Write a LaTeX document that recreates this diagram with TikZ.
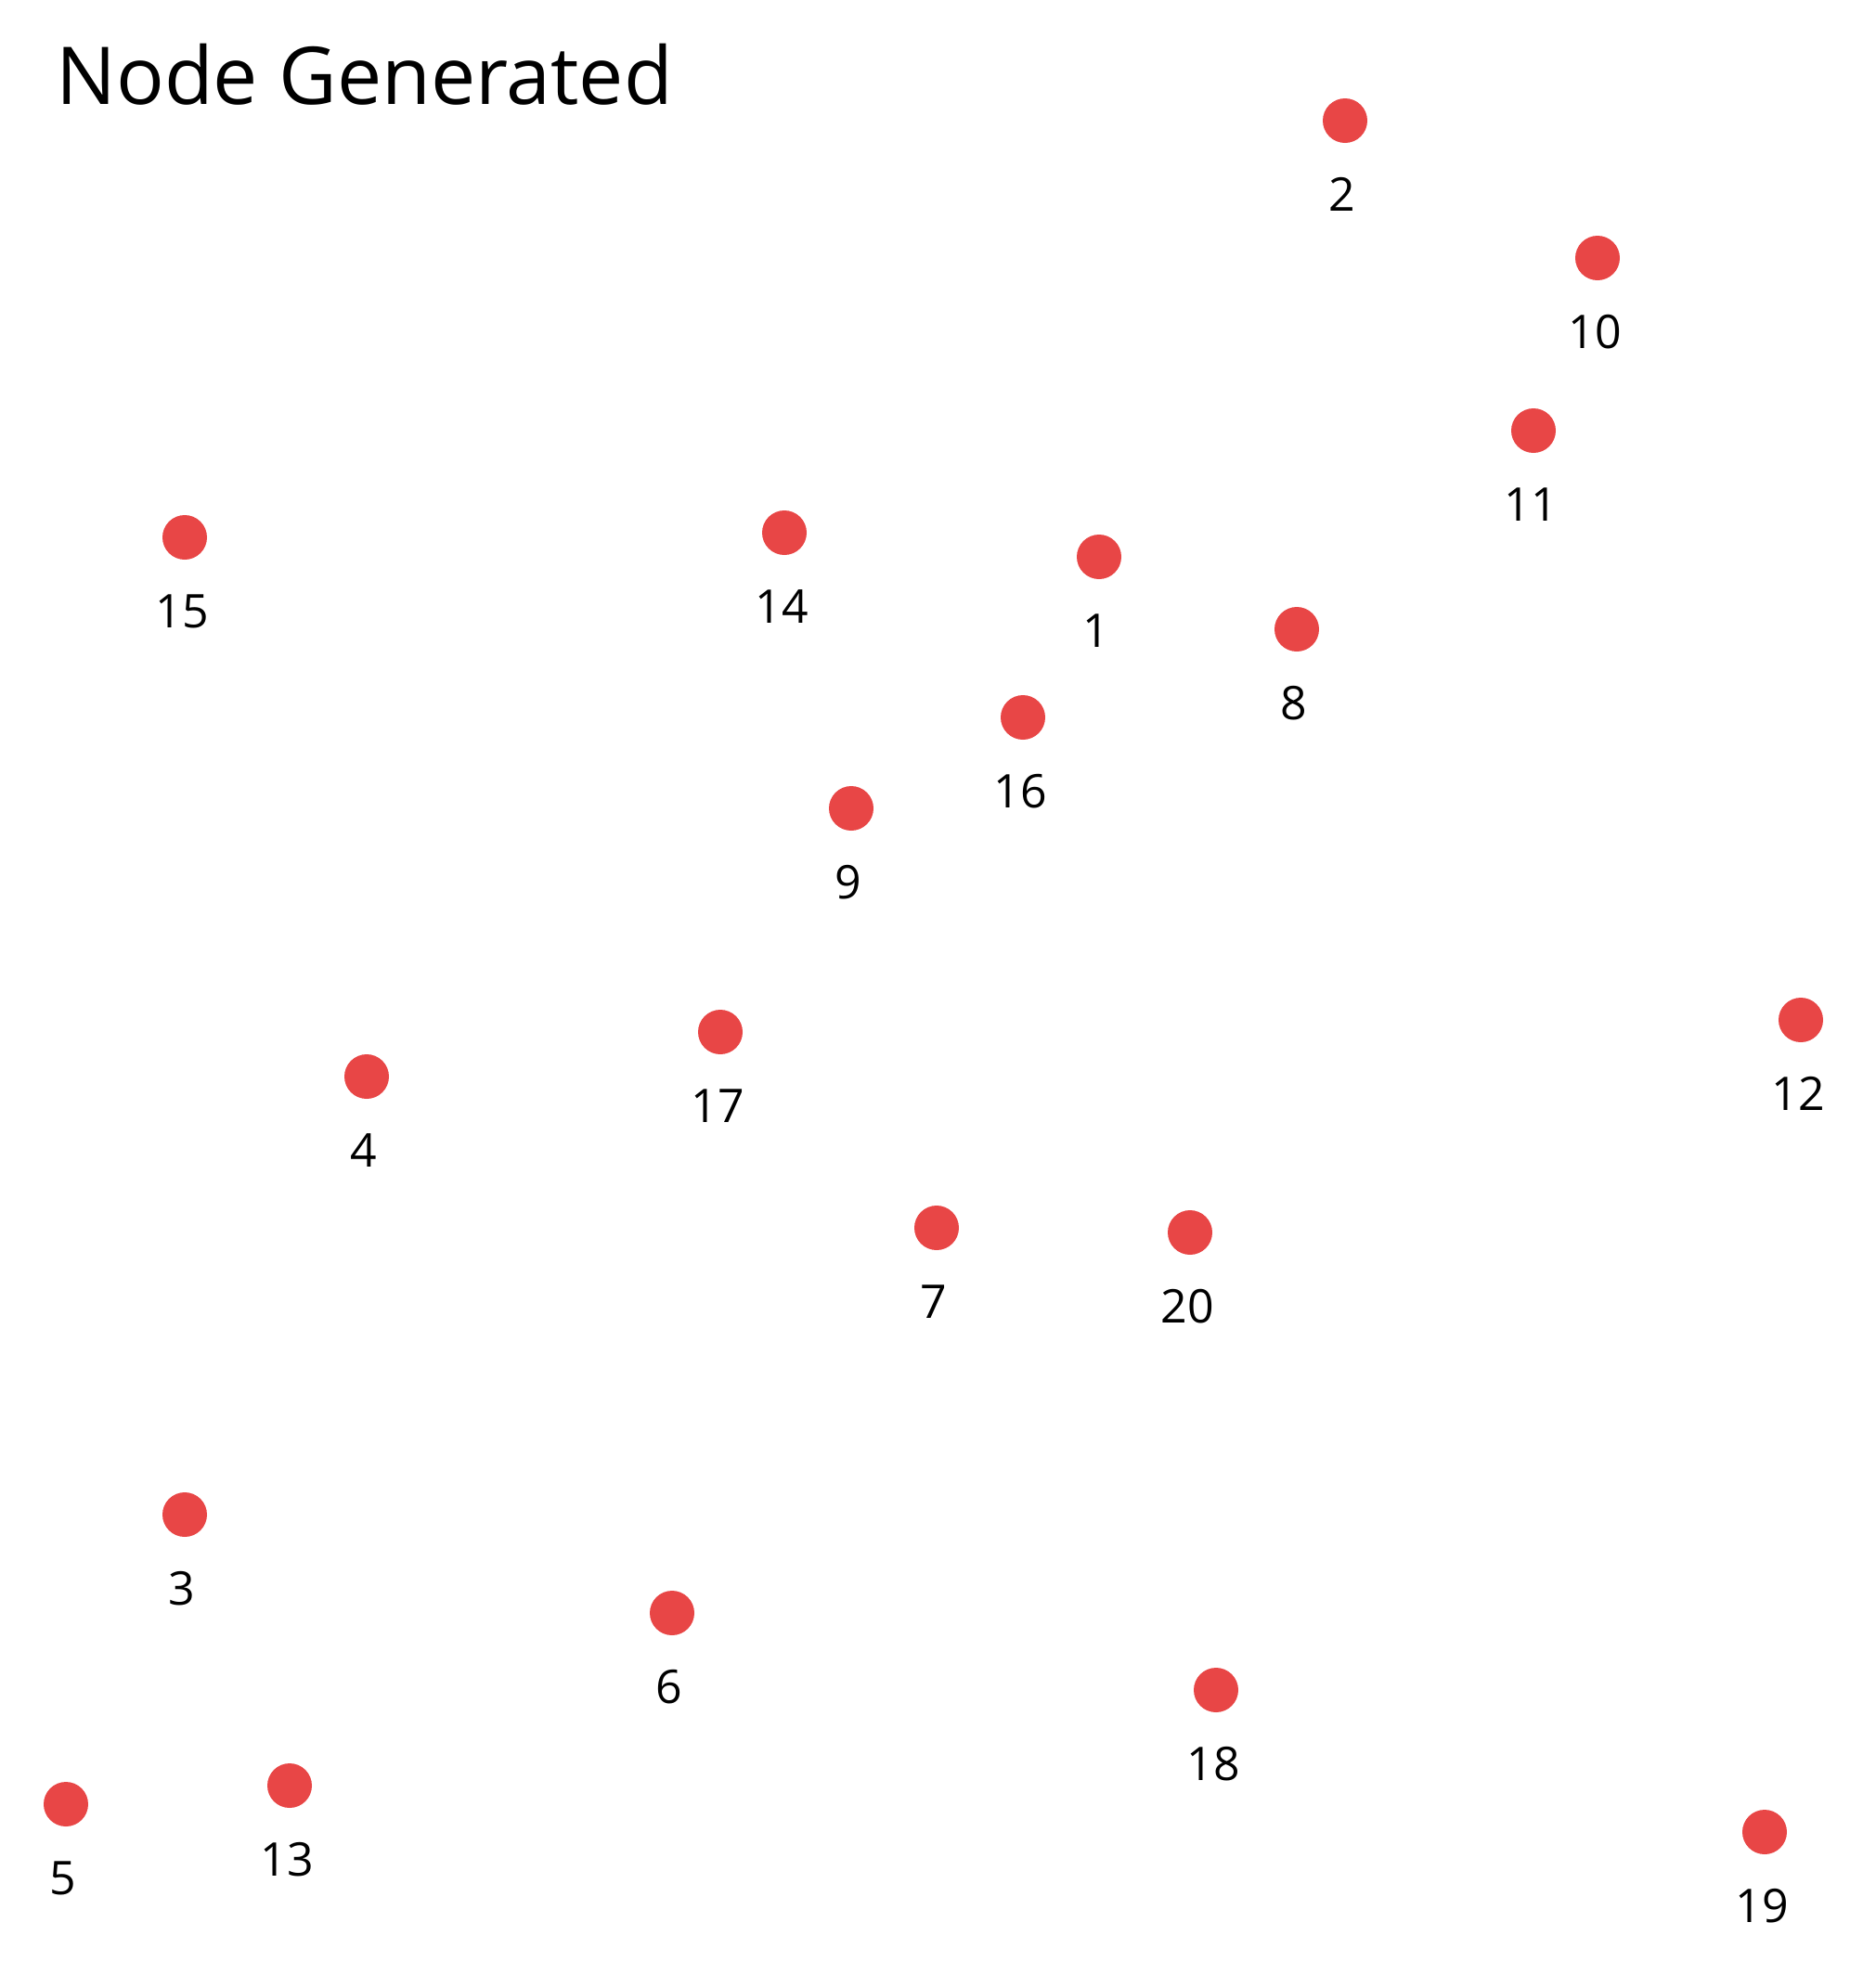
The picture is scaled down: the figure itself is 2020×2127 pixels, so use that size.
\documentclass[tikz,border=0pt]{standalone}
\usepackage{fontspec}
\setmainfont{Open Sans}
\definecolor{dotred}{HTML}{E84646}
\begin{document}
\begin{tikzpicture}[x=0.5pt,y=0.5pt,
  dot/.style={circle,fill=dotred,draw=none,inner sep=0pt,minimum size=24pt},
  lab/.style={font=\fontsize{25}{30}\selectfont,inner sep=0pt,anchor=base},
  ttl/.style={font=\fontsize{43}{52}\selectfont,inner sep=0pt,anchor=base west}]
\fill[white] (0,0) rectangle (2020,-2127);
\useasboundingbox (0,0) rectangle (2020,-2127);
\node[ttl] (title) at (60,-112) {Node Generated};
\foreach \n/\x/\y in {2/1449/130, 10/1721/278, 11/1652/464, 15/199/579, 14/845/574,
  1/1184/600, 8/1397/678, 16/1102/773, 9/917/871, 12/1940/1099, 17/776/1112,
  4/395/1160, 7/1009/1323, 20/1282/1328, 3/199/1632, 6/724/1738, 18/1310/1821,
  5/71/1944, 13/312/1924, 19/1901/1974}{
  \node[dot] (n\n) at (\x,-\y) {};
  \node[lab] (l\n) at ([xshift=-1.5pt,yshift=-48.5pt]n\n.center) {\n};
}
\end{tikzpicture}
\end{document}
